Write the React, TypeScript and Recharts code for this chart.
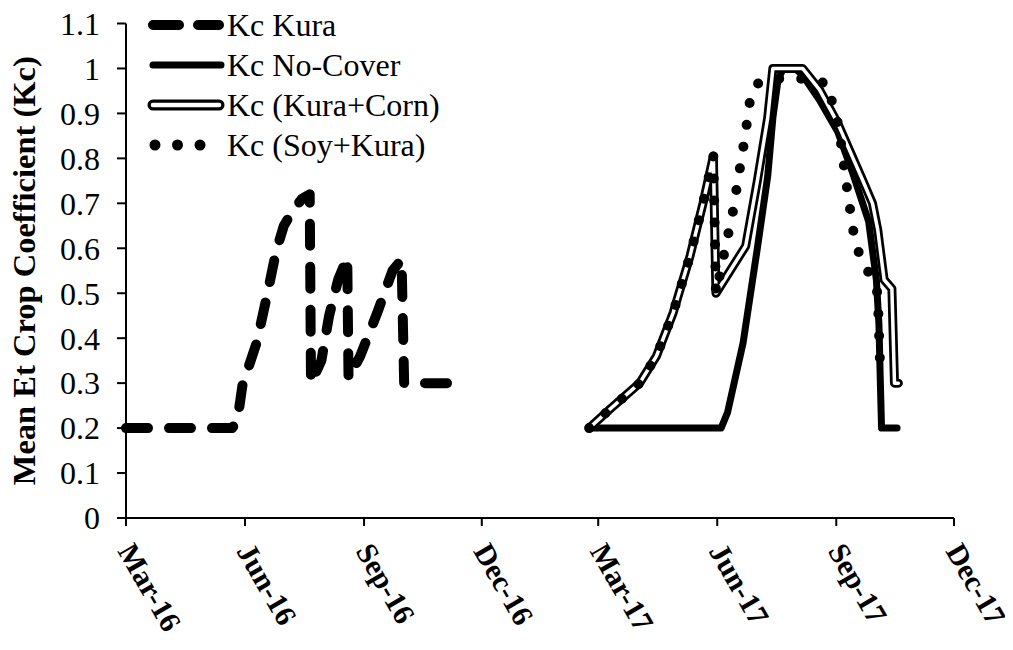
import React from 'react';
import { LineChart, Line, XAxis, YAxis, Legend } from 'recharts';

const FONT = "'Liberation Serif', 'Times New Roman', Times, serif";
const TITLE = 'Mean Et Crop Coefficient (Kc)';

const seriesNames = ['Kc Kura', 'Kc No-Cover', 'Kc (Kura+Corn)', 'Kc (Soy+Kura)'];

const kuraDates = [
  '2016-03-01', '2016-05-22', '2016-05-26', '2016-05-30', '2016-06-10', '2016-06-18',
  '2016-06-25', '2016-07-01', '2016-07-08', '2016-07-15', '2016-07-21', '2016-07-22',
  '2016-07-30', '2016-08-05', '2016-08-12', '2016-08-19', '2016-08-20', '2016-08-29',
  '2016-09-11', '2016-09-23', '2016-09-30', '2016-10-02', '2016-11-10',
];
const kuraValues = [
  0.2, 0.2, 0.215, 0.295, 0.39, 0.495,
  0.593, 0.65, 0.684, 0.71, 0.72, 0.3,
  0.35, 0.45, 0.53, 0.58, 0.31, 0.36,
  0.455, 0.55, 0.575, 0.3, 0.3,
];

const noCoverDates = [
  '2017-02-22', '2017-06-04', '2017-06-09', '2017-06-21', '2017-07-02', '2017-07-10',
  '2017-07-14', '2017-07-18', '2017-07-22', '2017-07-31', '2017-08-06', '2017-08-19',
  '2017-09-02', '2017-09-14', '2017-09-26', '2017-10-02', '2017-10-04', '2017-10-05',
  '2017-10-06', '2017-10-18',
];
const noCoverValues = [
  0.2, 0.2, 0.235, 0.39, 0.6, 0.76,
  0.89, 0.975, 1.0, 1.0, 0.985, 0.93,
  0.86, 0.765, 0.66, 0.53, 0.43, 0.31,
  0.2, 0.2,
];

const kuraCornDates = [
  '2017-02-22', '2017-03-10', '2017-04-02', '2017-04-15', '2017-04-28', '2017-05-11',
  '2017-05-21', '2017-05-29', '2017-05-31', '2017-06-23', '2017-07-02', '2017-07-10',
  '2017-07-14', '2017-08-06', '2017-08-19', '2017-09-02', '2017-09-14', '2017-09-21',
  '2017-09-29', '2017-10-03', '2017-10-08', '2017-10-14', '2017-10-16', '2017-10-19',
];
const kuraCornValues = [
  0.2, 0.242, 0.3, 0.36, 0.457, 0.583,
  0.7, 0.805, 0.5, 0.605, 0.75, 0.89,
  1.0, 1.0, 0.953, 0.879, 0.8, 0.754,
  0.7, 0.642, 0.53, 0.51, 0.3, 0.3,
];

const soyKuraDates = [
  '2017-02-22', '2017-03-10', '2017-04-02', '2017-04-15', '2017-04-28', '2017-05-11',
  '2017-05-21', '2017-05-29', '2017-05-31', '2017-06-13', '2017-06-22', '2017-06-25',
  '2017-06-27', '2017-07-03', '2017-07-15', '2017-07-31', '2017-08-15', '2017-08-25',
  '2017-09-03', '2017-09-08', '2017-09-13', '2017-09-16', '2017-09-23', '2017-10-03',
  '2017-10-05',
];
const soyKuraValues = [
  0.2, 0.242, 0.3, 0.36, 0.457, 0.583,
  0.7, 0.805, 0.5, 0.68, 0.84, 0.9,
  0.945, 0.968, 0.977, 0.978, 0.975, 0.965,
  0.87, 0.76, 0.66, 0.605, 0.565, 0.5,
  0.33,
];

const tickDates = [
  '2016-03-01', '2016-06-01', '2016-09-01', '2016-12-01',
  '2017-03-01', '2017-06-01', '2017-09-01', '2017-12-01',
];
const tickLabels = ['Mar-16', 'Jun-16', 'Sep-16', 'Dec-16', 'Mar-17', 'Jun-17', 'Sep-17', 'Dec-17'];

const yTicks = [0, 0.1, 0.2, 0.3, 0.4, 0.5, 0.6, 0.7, 0.8, 0.9, 1, 1.1];
const yTickLabels = ['0', '0.1', '0.2', '0.3', '0.4', '0.5', '0.6', '0.7', '0.8', '0.9', '1', '1.1'];

const toTime = (s: string) => {
  const [y, m, d] = s.split('-').map(Number);
  return Date.UTC(y, m - 1, d);
};
const toRows = (dates: string[], values: number[]) =>
  dates.map((d, i) => ({ t: toTime(d), v: values[i] }));

const kuraData = toRows(kuraDates, kuraValues);
const noCoverData = toRows(noCoverDates, noCoverValues);
const kuraCornData = toRows(kuraCornDates, kuraCornValues);
const soyKuraData = toRows(soyKuraDates, soyKuraValues);
const tickTimes = tickDates.map(toTime);

const XTick = (props: any) => {
  const { x, y, payload } = props;
  const i = tickTimes.indexOf(payload.value);
  const px = x - 9;
  const py = y + 25;
  return (
    <text
      x={px}
      y={py}
      transform={`rotate(60 ${px} ${py})`}
      textAnchor="start"
      fontFamily={FONT}
      fontWeight={700}
      fontSize={30}
      fill="#000"
    >
      {tickLabels[i]}
    </text>
  );
};

const YTitle = (props: any) => {
  const vb = props.viewBox || { y: 15.5, height: 494.5 };
  const cy = vb.y + vb.height / 2;
  const cx = 27;
  return (
    <text
      x={cx}
      y={cy}
      transform={`rotate(-90 ${cx} ${cy})`}
      textAnchor="middle"
      fontFamily={FONT}
      fontWeight={700}
      fontSize={32.5}
      fill="#000"
    >
      {TITLE}
    </text>
  );
};

const LegendSample = ({ name }: { name: string }) => {
  if (name === seriesNames[0]) {
    return (
      <line x1={10} y1={20} x2={76} y2={20} stroke="#000" strokeWidth={10}
        strokeDasharray="26 19" strokeLinecap="round" />
    );
  }
  if (name === seriesNames[1]) {
    return <line x1={10} y1={20} x2={78} y2={20} stroke="#000" strokeWidth={7} strokeLinecap="round" />;
  }
  if (name === seriesNames[2]) {
    return (
      <g>
        <line x1={10} y1={20} x2={76} y2={20} stroke="#000" strokeWidth={11} strokeLinecap="round" />
        <line x1={10} y1={20} x2={76} y2={20} stroke="#fff" strokeWidth={4.5} strokeLinecap="round" />
      </g>
    );
  }
  return (
    <line x1={12} y1={20} x2={58} y2={20} stroke="#000" strokeWidth={11}
      strokeDasharray="0 22.5" strokeLinecap="round" />
  );
};

const renderLegend = (props: any) => {
  const seen = new Set<string>();
  const items = (props.payload || [])
    .filter((p: any) => {
      if (!seriesNames.includes(p.value) || seen.has(p.value)) return false;
      seen.add(p.value);
      return true;
    })
    .sort((a: any, b: any) => seriesNames.indexOf(a.value) - seriesNames.indexOf(b.value));
  return (
    <div style={{ fontFamily: FONT, fontSize: 32, color: '#000' }}>
      {items.map((p: any) => (
        <div key={p.value} style={{ display: 'flex', alignItems: 'center', height: 40 }}>
          <svg width={84} height={40} style={{ display: 'block', flex: 'none' }}>
            <LegendSample name={p.value} />
          </svg>
          <span style={{ lineHeight: '40px', whiteSpace: 'nowrap' }}>{p.value}</span>
        </div>
      ))}
    </div>
  );
};

const common = {
  type: 'linear' as const,
  dataKey: 'v',
  dot: false,
  activeDot: false,
  isAnimationActive: false,
  strokeLinejoin: 'round' as const,
  strokeLinecap: 'round' as const,
};

export default function App() {
  return (
    <LineChart
      width={1005}
      height={642}
      margin={{ top: 15.5, right: 59, bottom: 0, left: 0 }}
      style={{ fontFamily: FONT }}
    >
      <XAxis
        dataKey="t"
        type="number"
        scale="time"
        domain={[tickTimes[0], tickTimes[tickTimes.length - 1]]}
        ticks={tickTimes}
        interval={0}
        height={132}
        tickSize={8}
        tickMargin={0}
        axisLine={{ stroke: '#000', strokeWidth: 2 }}
        tickLine={{ stroke: '#000', strokeWidth: 2 }}
        tick={<XTick />}
      />
      <YAxis
        type="number"
        domain={[0, 1.1]}
        ticks={yTicks}
        interval={0}
        width={118}
        tickSize={9}
        tickMargin={17}
        axisLine={{ stroke: '#000', strokeWidth: 2 }}
        tickLine={{ stroke: '#000', strokeWidth: 2 }}
        tick={{ fontFamily: FONT, fontSize: 32, fill: '#000' }}
        tickFormatter={(v: number) => yTickLabels[yTicks.indexOf(v)] ?? String(v)}
        label={{ content: (p: any) => <YTitle {...p} /> }}
      />
      <Legend
        layout="vertical"
        align="center"
        verticalAlign="middle"
        itemSorter={null as any}
        content={renderLegend}
        wrapperStyle={{ top: -3, left: 135, width: 420, height: 160 }}
      />
      <Line {...common} data={kuraData} name={seriesNames[0]} stroke="#000"
        strokeWidth={10} strokeDasharray="22 21" />
      <Line {...common} data={noCoverData} name={seriesNames[1]} stroke="#000" strokeWidth={7} />
      <Line {...common} data={kuraCornData} name={seriesNames[2]} stroke="#000" strokeWidth={9} />
      <Line {...common} data={kuraCornData} name="Kc (Kura+Corn) core" legendType="none"
        stroke="#fff" strokeWidth={3.5} />
      <Line {...common} data={soyKuraData} name={seriesNames[3]} stroke="#000"
        strokeWidth={10} strokeDasharray="0 22" />
    </LineChart>
  );
}
